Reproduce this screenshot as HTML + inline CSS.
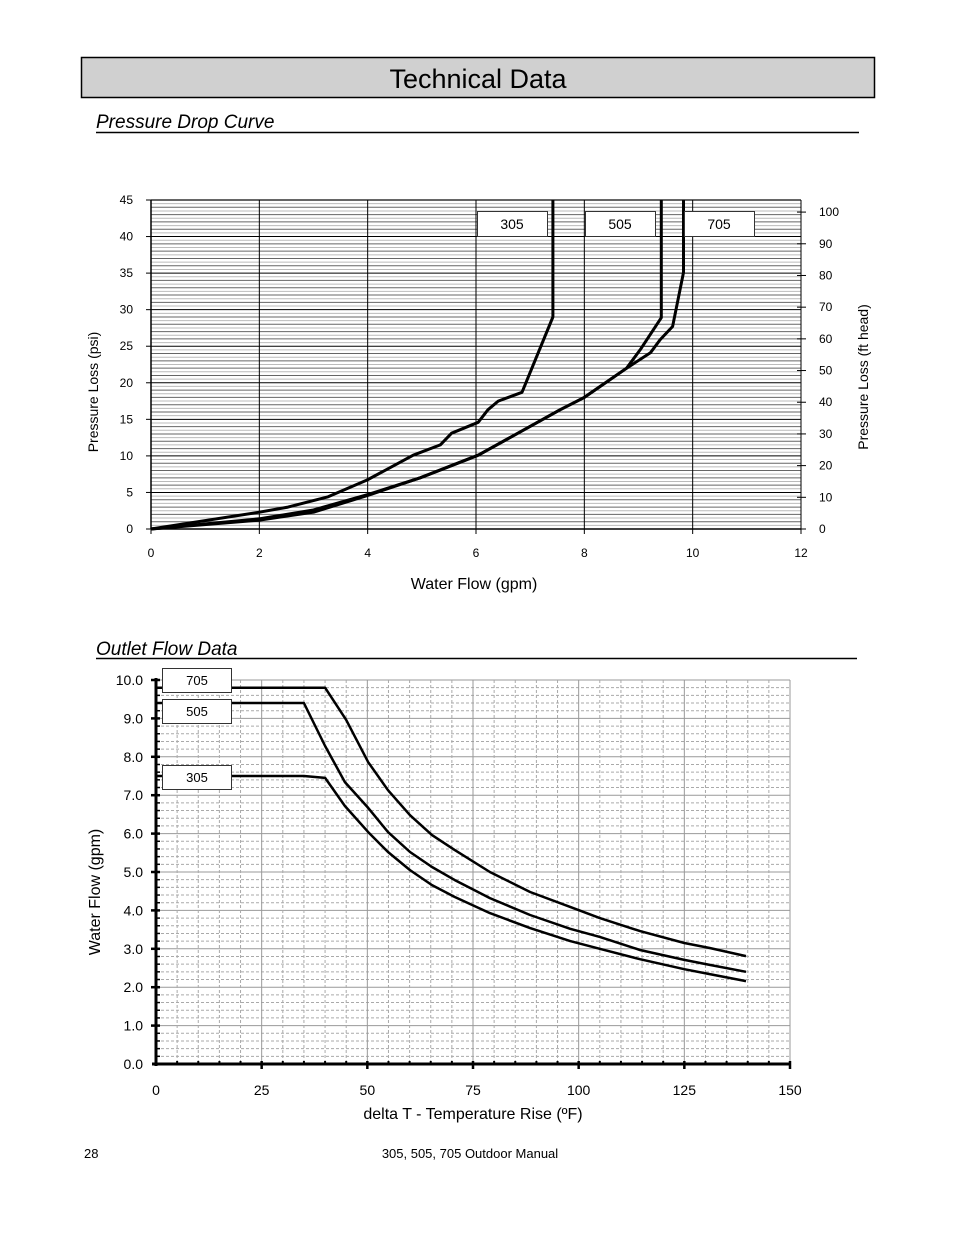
<!DOCTYPE html>
<html><head><meta charset="utf-8"><style>
html,body{margin:0;padding:0;background:#fff;}
svg{display:block;font-family:"Liberation Sans",Arial,sans-serif;}
</style></head><body>
<svg id="page" width="954" height="1235" viewBox="0 0 954 1235" xmlns="http://www.w3.org/2000/svg">
<rect x="81.5" y="57.5" width="793" height="40" fill="#d0d0d0" stroke="#000" stroke-width="1.5"/>
<text x="478" y="88" font-size="27" text-anchor="middle">Technical Data</text>
<text x="96" y="128" font-size="19" font-style="italic">Pressure Drop Curve</text>
<line x1="96" y1="132.5" x2="859" y2="132.5" stroke="#000" stroke-width="1.5"/>
<text x="96" y="655" font-size="19" font-style="italic">Outlet Flow Data</text>
<line x1="96" y1="658.5" x2="857" y2="658.5" stroke="#000" stroke-width="1.5"/>
<g id="chart1"></g>
<g id="chart2"></g>
<text x="84" y="1158" font-size="13">28</text>
<text x="470" y="1158" font-size="13" text-anchor="middle">305, 505, 705 Outdoor Manual</text>
</svg>
<script>
// ---------- Pressure drop chart data ----------
const pdXTicks = [0, 2, 4, 6, 8, 10, 12];
const pdYTicks = [0, 5, 10, 15, 20, 25, 30, 35, 40, 45];
const pdFtTicks = [0, 10, 20, 30, 40, 50, 60, 70, 80, 90, 100];
const pd305Flow = [0, 2.0, 2.53, 3.27, 3.99, 4.84, 5.34, 5.55, 6.04, 6.22, 6.41, 6.85, 7.42, 7.42];
const pd305Psi  = [0, 2.3, 3.0, 4.4, 6.7, 10.1, 11.5, 13.1, 14.6, 16.3, 17.5, 18.7, 29.0, 45];
const pd505Flow = [0, 2.0, 3.0, 4.0, 4.97, 6.04, 7.55, 8.0, 8.78, 9.03, 9.42, 9.42];
const pd505Psi  = [0, 1.2, 2.3, 4.6, 7.0, 10.1, 16.3, 18.0, 22.0, 24.5, 28.9, 45];
const pd705Flow = [0, 2.0, 3.0, 4.0, 4.97, 6.04, 7.55, 8.0, 8.78, 9.22, 9.4, 9.63, 9.83, 9.83];
const pd705Psi  = [0, 1.4, 2.6, 4.7, 7.0, 10.1, 16.3, 18.0, 22.0, 24.1, 25.9, 27.7, 35.1, 45];
const pdLabels = ["305", "505", "705"];

// ---------- Outlet flow chart data ----------
const ofXTicks = [0, 25, 50, 75, 100, 125, 150];
const ofYTicks = [0, 1, 2, 3, 4, 5, 6, 7, 8, 9, 10];
const of705T = [0, 40, 45, 50.2, 54.9, 60.1, 65.3, 70.7, 79, 88.5, 98, 105, 114.5, 125, 131, 139.6];
const of705F = [9.8, 9.8, 8.96, 7.86, 7.13, 6.48, 5.96, 5.57, 5.0, 4.48, 4.09, 3.80, 3.46, 3.15, 3.02, 2.81];
const of505T = [0, 35, 40, 44.7, 50.2, 54.9, 60.1, 65.3, 70.7, 79, 88.5, 98, 105, 114.5, 125, 131, 139.6];
const of505F = [9.4, 9.4, 8.28, 7.34, 6.67, 6.04, 5.52, 5.13, 4.79, 4.32, 3.88, 3.52, 3.31, 2.97, 2.71, 2.58, 2.40];
const of305T = [0, 35, 40, 44.7, 50.2, 54.9, 60.1, 65.3, 70.7, 79, 88.5, 98, 105, 114.5, 125, 131, 139.6];
const of305F = [7.5, 7.5, 7.45, 6.72, 6.04, 5.52, 5.05, 4.66, 4.35, 3.93, 3.54, 3.20, 3.0, 2.73, 2.47, 2.34, 2.16];

const NS = "http://www.w3.org/2000/svg";
function mk(parent, tag, attrs, text) {
  const e = document.createElementNS(NS, tag);
  for (const k in attrs) e.setAttribute(k, attrs[k]);
  if (text !== undefined) e.textContent = text;
  parent.appendChild(e);
  return e;
}

// ---------- Chart 1 ----------
(function () {
  const g = document.getElementById("chart1");
  const L = 151, R = 801, B = 529, T = 200;
  const x = v => L + (v / 12) * (R - L);
  const y = v => B - (v / 45) * (B - T);
  const yFt = v => B - (v / 2.307 / 45) * (B - T);
  for (let i = 1; i < 90; i++) {
    const l = mk(g, "line", {x1: L, x2: R, y1: y(i * 0.5), y2: y(i * 0.5), stroke: i % 10 === 0 ? "#000" : (i % 2 ? "#bbb" : "#666"), "stroke-width": 1});
    
    
  }
  mk(g, "line", {x1: L, x2: R, y1: T, y2: T, stroke: "#666", "stroke-width": 2});
  pdXTicks.forEach(v => {
    if (v > 0 && v < 12) {
      const l = mk(g, "line", {x1: x(v), x2: x(v), y1: T, y2: B, stroke: "#000", "stroke-width": 1});
      
      
    }
    const t = mk(g, "text", {x: x(v), y: B + 28, "font-size": 12, "text-anchor": "middle"}, String(v));
    
    
  });
  pdYTicks.forEach(v => {
    mk(g, "line", {x1: L - 5, x2: L, y1: y(v), y2: y(v), stroke: "#000"});
    const t = mk(g, "text", {x: L - 18, y: y(v) + 4, "font-size": 12, "text-anchor": "end"}, String(v));
    
    
  });
  pdFtTicks.forEach(v => {
    mk(g, "line", {x1: R - 4, x2: R + 5, y1: yFt(v), y2: yFt(v), stroke: "#000"});
    const t = mk(g, "text", {x: R + 18, y: yFt(v) + 4, "font-size": 12}, String(v));
    
    
  });
  mk(g, "line", {x1: L, x2: L, y1: T, y2: B, stroke: "#000", "stroke-width": 1.5});
  mk(g, "line", {x1: R, x2: R, y1: T, y2: B, stroke: "#000", "stroke-width": 1});
  mk(g, "line", {x1: L, x2: R, y1: B, y2: B, stroke: "#000", "stroke-width": 1.5});
  pdXTicks.forEach(v => mk(g, "line", {x1: x(v), x2: x(v), y1: B, y2: B + 5, stroke: "#000"}));
  const series = [[pd305Flow, pd305Psi, "curve-305"], [pd505Flow, pd505Psi, "curve-505"], [pd705Flow, pd705Psi, "curve-705"]];
  series.forEach(s => {
    const pts = s[0].map((f, i) => x(f).toFixed(1) + "," + y(s[1][i]).toFixed(1)).join(" ");
    const p = mk(g, "polyline", {points: pts, fill: "none", stroke: "#000", "stroke-width": 3, "stroke-linejoin": "round"});
    
    
  });
  const boxX = [477, 585, 684];
  pdLabels.forEach((lab, i) => {
    const r = mk(g, "rect", {x: boxX[i] + 0.5, y: 211.5, width: 70, height: 25, fill: "#fff", stroke: "#333", "stroke-width": 1});
    
    
    const t = mk(g, "text", {x: boxX[i] + 35, y: 229, "font-size": 14, "text-anchor": "middle"}, lab);
    
    
  });
  const yt = mk(g, "text", {x: 0, y: 0, "font-size": 14, "text-anchor": "middle", transform: "translate(98,392) rotate(-90)"}, "Pressure Loss (psi)");
  
  
  const yt2 = mk(g, "text", {x: 0, y: 0, "font-size": 14, "text-anchor": "middle", transform: "translate(868,377) rotate(-90)"}, "Pressure Loss (ft head)");
  
  
  const xt = mk(g, "text", {x: 474, y: 589, "font-size": 16, "text-anchor": "middle"}, "Water Flow (gpm)");
  
  
})();

// ---------- Chart 2 ----------
(function () {
  const g = document.getElementById("chart2");
  const L = 156, R = 790, B = 1064, T = 680;
  const x = v => L + (v / 150) * (R - L);
  const y = v => B - (v / 10) * (B - T);
  for (let i = 1; i <= 50; i++) {
    const v = i * 0.2;
    const major = i % 5 === 0;
    mk(g, "line", {x1: L, x2: R, y1: y(v), y2: y(v), stroke: major ? "#999" : "#aaa", "stroke-width": 1, "stroke-dasharray": major ? "" : "3,2"});
  }
  for (let i = 1; i <= 30; i++) {
    const v = i * 5;
    const major = i % 5 === 0;
    mk(g, "line", {x1: x(v), x2: x(v), y1: T, y2: B, stroke: major ? "#999" : "#aaa", "stroke-width": 1, "stroke-dasharray": major ? "" : "3,2"});
    mk(g, "line", {x1: x(v), x2: x(v), y1: B - 3, y2: B + (major ? 5 : 0), stroke: "#000", "stroke-width": major ? 2.5 : 2});
  }
  for (let i = 1; i <= 50; i++) {
    mk(g, "line", {x1: L - (i % 5 === 0 ? 5 : 0), x2: L + 4, y1: y(i * 0.2), y2: y(i * 0.2), stroke: "#000", "stroke-width": i % 5 === 0 ? 2.5 : 1.5});
  }
  mk(g, "line", {x1: L, x2: L, y1: T - 2, y2: B + 2, stroke: "#000", "stroke-width": 3});
  mk(g, "line", {x1: L - 4, x2: R, y1: B, y2: B, stroke: "#000", "stroke-width": 3});
  ofYTicks.forEach(v => {
    const t = mk(g, "text", {x: 143, y: y(v) + 5, "font-size": 14, "text-anchor": "end"}, v.toFixed(1));
    
    
  });
  ofXTicks.forEach(v => {
    const t = mk(g, "text", {x: x(v), y: 1095, "font-size": 14, "text-anchor": "middle"}, String(v));
    
    
  });
  const series = [[of705T, of705F, "curve-705"], [of505T, of505F, "curve-505"], [of305T, of305F, "curve-305"]];
  series.forEach(s => {
    const pts = s[0].map((t, i) => x(t).toFixed(1) + "," + y(s[1][i]).toFixed(1)).join(" ");
    const p = mk(g, "polyline", {points: pts, fill: "none", stroke: "#000", "stroke-width": 2.5, "stroke-linejoin": "round"});
    
    
  });
  const labs = [["705", 668], ["505", 699], ["305", 765]];
  labs.forEach(l => {
    const r = mk(g, "rect", {x: 162.5, y: l[1] + 0.5, width: 69, height: 24, fill: "#fff", stroke: "#333", "stroke-width": 1});
    
    
    const t = mk(g, "text", {x: 197, y: l[1] + 17, "font-size": 13, "text-anchor": "middle"}, l[0]);
    
    
  });
  const yt = mk(g, "text", {x: 0, y: 0, "font-size": 16, "text-anchor": "middle", transform: "translate(100,892) rotate(-90)"}, "Water Flow (gpm)");
  
  
  const xt = mk(g, "text", {x: 473, y: 1119, "font-size": 16, "text-anchor": "middle"}, "delta T - Temperature Rise (ºF)");
  
  
})();
</script>
</body></html>
